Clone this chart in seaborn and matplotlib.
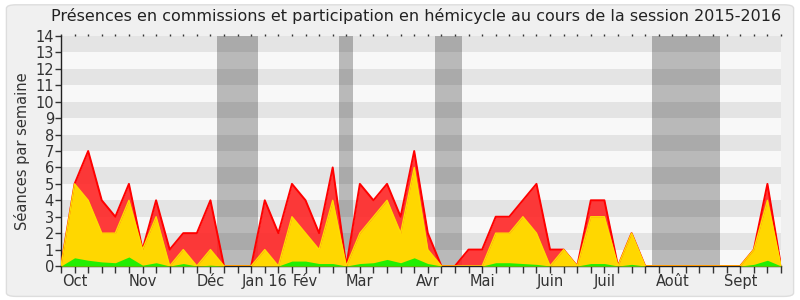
import matplotlib
matplotlib.use("Agg")
import matplotlib.pyplot as plt
import seaborn as sns
import numpy as np
import pandas as pd
from matplotlib.patches import FancyBboxPatch

# ---- data (weekly, session 2015-2016) ----
weeks = list(range(54))
total = [0, 5, 7, 4, 3, 5, 1, 4, 1, 2, 2, 4, 0, 0, 0, 4, 2, 5, 4, 2,
         6, 0, 5, 4, 5, 3, 7, 2, 0, 0, 1, 1, 3, 3, 4, 5, 1, 1, 0, 4,
         4, 0, 2, 0, 0, 0, 0, 0, 0, 0, 0, 1, 5, 0]
commission = [0, 5, 4, 2, 2, 4, 1, 3, 0, 1, 0, 1, 0, 0, 0, 1, 0, 3, 2, 1,
              4, 0, 2, 3, 4, 2, 6, 1, 0, 0, 0, 0, 2, 2, 3, 2, 0, 1, 0, 3,
              3, 0, 2, 0, 0, 0, 0, 0, 0, 0, 0, 1, 4, 0]
hemicycle = [0, 0.5, 0.35, 0.25, 0.2, 0.55, 0.05, 0.2, 0, 0.15, 0, 0.05, 0, 0, 0, 0, 0, 0.3, 0.3, 0.15,
             0.15, 0, 0.15, 0.2, 0.4, 0.2, 0.5, 0.15, 0, 0, 0, 0, 0.2, 0.2, 0.15, 0.1, 0, 0, 0, 0.15,
             0.15, 0, 0.1, 0, 0, 0, 0, 0, 0, 0, 0, 0.1, 0.35, 0]
month_pos = [1, 6, 11, 15, 18, 22, 27, 31, 36, 40, 45, 50]
month_labels = ["Oct", "Nov", "Déc", "Jan 16", "Fév", "Mar", "Avr", "Mai", "Juin", "Juil", "Août", "Sept"]
vacations = [(11.5, 14.5), (20.5, 21.5), (27.5, 29.5), (43.5, 48.5)]

df = pd.DataFrame({"week": weeks, "total": total,
                   "commission": commission, "hemicycle": hemicycle})

sns.set_theme(style="white")
plt.rcParams['font.family'] = ['DejaVu Sans']

fig = plt.figure(figsize=(8, 3), dpi=100)
fig.patch.set_facecolor("white")
bg = FancyBboxPatch((0.008, 0.012), 0.984, 0.972, boxstyle="round,pad=0,rounding_size=0.012",
                    transform=fig.transFigure, facecolor="#f0f0f0", edgecolor="#dddddd",
                    linewidth=1, zorder=-10)
fig.patches.append(bg)

ax = fig.add_axes([0.07625, 0.1133, 0.9, 0.7667])
ax.set_facecolor("#f8f8f8")
ax.set_xlim(0, 53)
ax.set_ylim(0, 14)

for k in range(1, 14, 2):
    ax.axhspan(k, k + 1, color="#e4e4e4", zorder=0, linewidth=0)
for a, b in vacations:
    ax.axvspan(a, b, color="#000000", alpha=0.25, zorder=1, linewidth=0)

ax.fill_between(df["week"], df["total"], color="#ff2020", alpha=0.88, zorder=2, linewidth=0)
sns.lineplot(data=df, x="week", y="total", ax=ax, color="#ff0000", linewidth=1.4, zorder=3)
ax.fill_between(df["week"], df["commission"], color="#ffd700", zorder=4, linewidth=0)
sns.lineplot(data=df, x="week", y="commission", ax=ax, color="#ffdd00", linewidth=1.0, zorder=5)
ax.fill_between(df["week"], df["hemicycle"], color="#22ee00", zorder=6, linewidth=0)

ax.set_yticks(range(15))
ax.set_yticklabels([str(v) for v in range(15)], fontsize=10.5, color="#333333")
ax.set_xticks(weeks, minor=True)
ax.set_xticks(month_pos)
ax.set_xticklabels(month_labels, fontsize=10.5, color="#333333")
ax.tick_params(axis="x", which="both", direction="out", length=5, width=1, color="#333333",
               bottom=True, top=False, pad=1)
ax.tick_params(axis="y", direction="out", length=4, width=1, color="#333333", left=True, pad=1)
for lab in ax.get_xticklabels():
    lab.set_horizontalalignment("center")

for s in ["top", "right"]:
    ax.spines[s].set_visible(False)
ax.spines["left"].set_color("#222222")
ax.spines["bottom"].set_color("#222222")
ax.spines["left"].set_linewidth(1)
ax.spines["bottom"].set_linewidth(1)

# dotted top ticks
axt = ax.secondary_xaxis("top")
axt.set_xticks(weeks)
axt.set_xticklabels([])
axt.tick_params(length=1.5, width=1, color="#333333", direction="out")
axt.spines["top"].set_visible(False)

ax.set_xlabel("")
ax.set_ylabel("Séances par semaine", fontsize=10.5, color="#333333", labelpad=4)
ax.grid(False)

fig.text(0.52, 0.945, "Présences en commissions et participation en hémicycle au cours de la session 2015-2016",
         ha="center", va="center", fontsize=11.5, color="#222222")

fig.savefig("out.png", dpi=100, facecolor=fig.get_facecolor())
